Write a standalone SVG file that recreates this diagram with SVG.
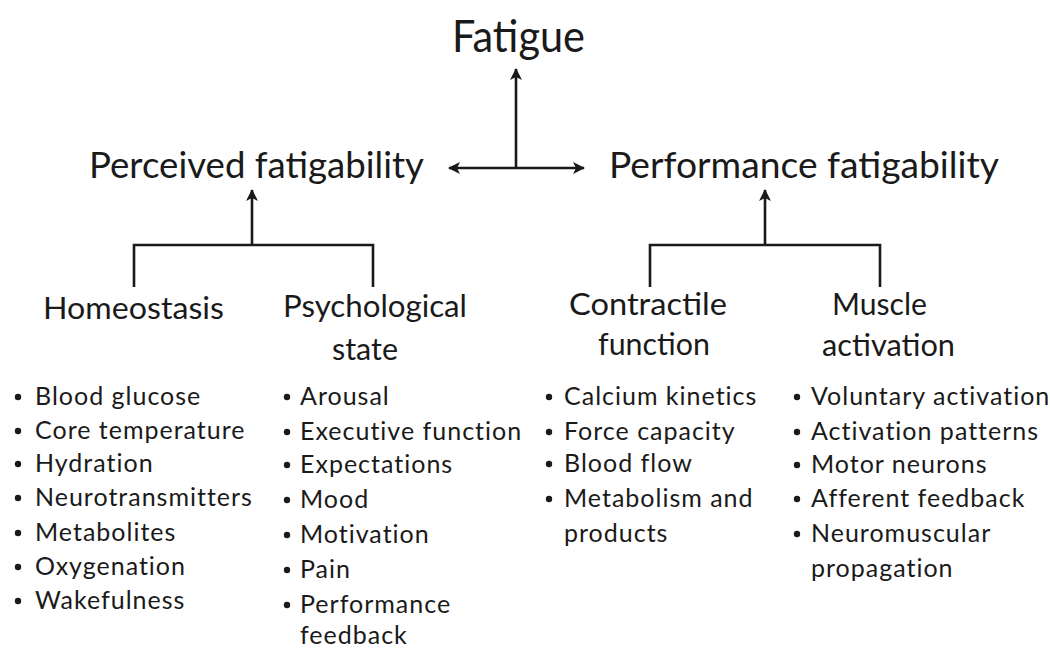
<svg xmlns="http://www.w3.org/2000/svg" width="1050" height="648" viewBox="0 0 1050 648">
<style>
text{font-family:Lato,"Open Sans","Liberation Sans",sans-serif;fill:#1a1a1a}
.t1{font-size:44px}
.t2{font-size:37px}
.t3{font-size:30px}
.li{font-size:25px;letter-spacing:1px}
.ln{stroke:#1a1a1a;stroke-width:2.6;fill:none}
.bul{fill:#1a1a1a}
</style>
<defs>
<marker id="ah" viewBox="0 0 12 12" refX="11" refY="6" markerWidth="12" markerHeight="12" markerUnits="userSpaceOnUse" orient="auto-start-reverse">
<path d="M0,0 L12,6 L0,12 L3,6 Z" fill="#1a1a1a"/>
</marker>
</defs>
<rect width="1050" height="648" fill="#fff"/>
<g id="connectors">
<line class="ln" x1="516" y1="168" x2="516" y2="69" marker-end="url(#ah)"/>
<line class="ln" x1="449" y1="168" x2="584" y2="168" marker-start="url(#ah)" marker-end="url(#ah)"/>
<polyline class="ln" points="134,287 134,245 373,245 373,287"/>
<line class="ln" x1="252" y1="245" x2="252" y2="190" marker-end="url(#ah)"/>
<polyline class="ln" points="650,287 650,245 880,245 880,287"/>
<line class="ln" x1="765" y1="245" x2="765" y2="190" marker-end="url(#ah)"/>
</g>
<g id="fatigue"><text class="t1" x="452" y="52" textLength="133" lengthAdjust="spacingAndGlyphs">Fatigue</text></g>
<g id="perceived"><text class="t2" x="89" y="178" textLength="335" lengthAdjust="spacingAndGlyphs">Perceived fatigability</text></g>
<g id="performance"><text class="t2" x="609" y="178" textLength="390" lengthAdjust="spacingAndGlyphs">Performance fatigability</text></g>
<g id="homeostasis">
<text class="t3" x="43" y="319" textLength="181" lengthAdjust="spacingAndGlyphs">Homeostasis</text>
<circle class="bul" cx="18" cy="397" r="3.2"/><text class="li" x="35" y="405">Blood glucose</text>
<circle class="bul" cx="18" cy="431" r="3.2"/><text class="li" x="35" y="439">Core temperature</text>
<circle class="bul" cx="18" cy="464" r="3.2"/><text class="li" x="35" y="472">Hydration</text>
<circle class="bul" cx="18" cy="498" r="3.2"/><text class="li" x="35" y="506">Neurotransmitters</text>
<circle class="bul" cx="18" cy="533" r="3.2"/><text class="li" x="35" y="541">Metabolites</text>
<circle class="bul" cx="18" cy="567" r="3.2"/><text class="li" x="35" y="575">Oxygenation</text>
<circle class="bul" cx="18" cy="601" r="3.2"/><text class="li" x="35" y="609">Wakefulness</text>
</g>
<g id="psychological">
<text class="t3" x="283" y="317" textLength="184" lengthAdjust="spacingAndGlyphs">Psychological</text>
<text class="t3" x="332" y="360" textLength="66" lengthAdjust="spacingAndGlyphs">state</text>
<circle class="bul" cx="287" cy="397" r="3.2"/><text class="li" x="300" y="405">Arousal</text>
<circle class="bul" cx="287" cy="432" r="3.2"/><text class="li" x="300" y="440">Executive function</text>
<circle class="bul" cx="287" cy="465" r="3.2"/><text class="li" x="300" y="473">Expectations</text>
<circle class="bul" cx="287" cy="500" r="3.2"/><text class="li" x="300" y="508">Mood</text>
<circle class="bul" cx="287" cy="535" r="3.2"/><text class="li" x="300" y="543">Motivation</text>
<circle class="bul" cx="287" cy="570" r="3.2"/><text class="li" x="300" y="578">Pain</text>
<circle class="bul" cx="287" cy="605" r="3.2"/><text class="li" x="300" y="613">Performance</text>
<text class="li" x="300" y="644">feedback</text>
</g>
<g id="contractile">
<text class="t3" x="569" y="315" textLength="158" lengthAdjust="spacingAndGlyphs">Contractile</text>
<text class="t3" x="598" y="355" textLength="112" lengthAdjust="spacingAndGlyphs">function</text>
<circle class="bul" cx="549" cy="397" r="3.2"/><text class="li" x="564" y="405">Calcium kinetics</text>
<circle class="bul" cx="549" cy="432" r="3.2"/><text class="li" x="564" y="440">Force capacity</text>
<circle class="bul" cx="549" cy="464" r="3.2"/><text class="li" x="564" y="472">Blood flow</text>
<circle class="bul" cx="549" cy="499" r="3.2"/><text class="li" x="564" y="507">Metabolism and</text>
<text class="li" x="564" y="542">products</text>
</g>
<g id="muscle">
<text class="t3" x="832" y="315" textLength="95" lengthAdjust="spacingAndGlyphs">Muscle</text>
<text class="t3" x="822" y="356" textLength="133" lengthAdjust="spacingAndGlyphs">activation</text>
<circle class="bul" cx="797" cy="397" r="3.2"/><text class="li" x="811" y="405">Voluntary activation</text>
<circle class="bul" cx="797" cy="432" r="3.2"/><text class="li" x="811" y="440">Activation patterns</text>
<circle class="bul" cx="797" cy="465" r="3.2"/><text class="li" x="811" y="473">Motor neurons</text>
<circle class="bul" cx="797" cy="499" r="3.2"/><text class="li" x="811" y="507">Afferent feedback</text>
<circle class="bul" cx="797" cy="534" r="3.2"/><text class="li" x="811" y="542">Neuromuscular</text>
<text class="li" x="811" y="577">propagation</text>
</g>
</svg>
